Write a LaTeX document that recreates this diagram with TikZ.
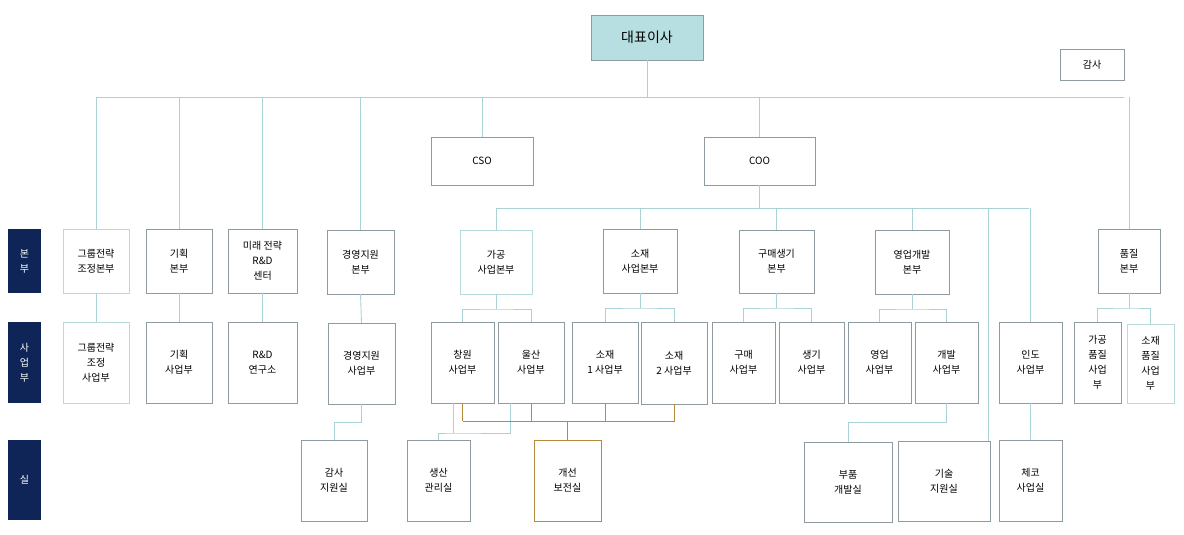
\documentclass[tikz,border=0pt]{standalone}
\usepackage{fontspec}
\setmainfont{Noto Sans CJK KR}
\begin{document}
\definecolor{lt}{HTML}{B9DADD}
\definecolor{gb}{HTML}{8E9CA2}
\definecolor{ln}{HTML}{A8D2D5}
\definecolor{gd}{HTML}{B58A3C}
\definecolor{nv}{HTML}{0F2557}
\definecolor{ceo}{HTML}{B7DEE1}
\newcommand\bx[7]{\node[#7, minimum width={(#4-#2)*1pt}, minimum height={(#5-#3)*1pt}] (#1) at ({(#2+#4)/2},{(#3+#5)/2}) {#6};}
\begin{tikzpicture}[x=1pt,y=-1pt,
  b/.style={draw=gb, line width=0.9pt, inner sep=0pt, outer sep=0pt, align=center, font=\fontsize{10}{15}\selectfont},
  bl/.style={b, draw=lt},
  bg/.style={b, draw=gd},
  lab/.style={fill=nv, inner sep=0pt, outer sep=0pt, align=center, text=white, font=\fontsize{10}{15}\selectfont},
  c/.style={draw=ln, line width=0.9pt},
  cg/.style={draw=gd, line width=0.9pt}]
\useasboundingbox (0,0) rectangle (1184,535);
\bx{ceo}{591}{15}{703}{60}{\fontsize{14}{16}\selectfont 대표이사}{b, fill=ceo}
\bx{audit}{1060}{49}{1124}{80}{감사}{b}
\bx{cso}{431}{137}{533}{185}{CSO}{b}
\bx{coo}{704}{137}{815}{185}{COO}{b}
\bx{L1}{8}{229}{41}{293}{본\\부}{lab}
\bx{L2}{8}{322}{41}{403}{사\\업\\부}{lab}
\bx{L3}{8}{440}{41}{520}{실}{lab}
% row1
\bx{a1}{63}{229}{129}{293}{그룹전략\\조정본부}{bl}
\bx{a2}{146}{229}{212}{293}{기획\\본부}{b}
\bx{a3}{228}{229}{297}{293}{미래 전략\\R\&D\\센터}{b}
\bx{a4}{327}{230}{394}{294}{경영지원\\본부}{b}
\bx{a5}{460}{230}{532}{294}{가공\\사업본부}{bl}
\bx{a6}{603}{229}{677}{293}{소재\\사업본부}{b}
\bx{a7}{739}{230}{814}{293}{구매생기\\본부}{b}
\bx{a8}{875}{230}{949}{294}{영업개발\\본부}{b}
\bx{a9}{1098}{229}{1160}{293}{품질\\본부}{b}
% row2
\bx{b1}{63}{322}{129}{403}{그룹전략\\조정\\사업부}{bl}
\bx{b2}{146}{322}{212}{403}{기획\\사업부}{b}
\bx{b3}{228}{322}{297}{403}{R\&D\\연구소}{b}
\bx{b4}{328}{323}{395}{404}{경영지원\\사업부}{b}
\bx{b5}{431}{322}{494}{403}{창원\\사업부}{b}
\bx{b6}{498}{322}{564}{403}{울산\\사업부}{b}
\bx{b7}{572}{322}{638}{403}{소재\\1 사업부}{b}
\bx{b8}{641}{322}{707}{404}{소재\\2 사업부}{b}
\bx{b9}{712}{322}{775}{403}{구매\\사업부}{b}
\bx{b10}{779}{322}{844}{403}{생기\\사업부}{b}
\bx{b11}{848}{322}{911}{403}{영업\\사업부}{b}
\bx{b12}{915}{322}{978}{403}{개발\\사업부}{b}
\bx{b13}{999}{322}{1062}{403}{인도\\사업부}{b}
\bx{b14}{1074}{322}{1121}{403}{가공\\품질\\사업\\부}{b}
\bx{b15}{1127}{324}{1174}{403}{소재\\품질\\사업\\부}{bl}
% row3
\bx{c1}{301}{440}{367}{521}{감사\\지원실}{b}
\bx{c2}{407}{440}{470}{521}{생산\\관리실}{b}
\bx{c3}{534}{440}{601}{521}{개선\\보전실}{bg}
\bx{c4}{804}{442}{892}{522}{부품\\개발실}{b}
\bx{c5}{898}{441}{990}{521}{기술\\지원실}{b}
\bx{c6}{999}{440}{1062}{521}{체코\\사업실}{b}
% top bus
\coordinate (t1) at (97,97);
\coordinate (t2) at (1124,97);
\coordinate (aud) at (1124,97);
\draw[c] (t1) -- (t2);
\draw[c] (ceo.south) -- (ceo.south |- t1);
\foreach \n in {a1,a2,a3,a4,cso,coo}{\draw[c] (\n.north) -- (\n.north |- t1);}
\draw[c] (a9.north) -- (a9.north |- t1);
% COO bus
\coordinate (k1) at (497,208);
\coordinate (k2) at (1029,208);
\draw[c] (coo.south) -- (coo.south |- k1);
\draw[c] (k1) -- (k2);
\foreach \n in {a5,a6,a7,a8}{\draw[c] (\n.north) -- (\n.north |- k1);}
\draw[c] (b13.north) -- (b13.north |- k2);
\draw[c] (c5.north east) ++(-2,0) coordinate (c5t);
\draw[c] (c5t) -- (c5t |- k1);
% straight
\foreach \u/\v in {a1/b1,a2/b2,a3/b3,a4/b4,b13/c6}{\draw[c] (\u.south) -- (\v.north);}
% splits
\newcommand\split[4]{\draw[c] (#1.south) -- ++(0,16) coordinate (s#1); \draw[c] (#2.north) |- (s#1) -| (#3.north);}
\draw[c] (a5.south) -- ++(0,15) coordinate (sa5);
\draw[c] (b5.north) ++(0,0) |- (sa5) -| (b6.north);
\draw[c] (a6.south) -- ++(0,15) coordinate (sa6);
\draw[c] (b7.north) |- (sa6) -| (b8.north);
\draw[c] (a7.south) -- ++(0,15) coordinate (sa7);
\draw[c] (b9.north) |- (sa7) -| (b10.north);
\draw[c] (a8.south) -- ++(0,15) coordinate (sa8);
\draw[c] (b11.north) |- (sa8) -| (b12.north);
\draw[c] (a9.south) -- ++(0,15) coordinate (sa9);
\draw[c] (b14.north) |- (sa9) -| (b15.north);
% to 실
\draw[c] (b4.south) -- ++(0,18) -| (c1.north);
\coordinate (p1) at (453,403);
\coordinate (p2) at (510,403);
\draw[c] (p1) -- ++(0,30) coordinate (q1);
\draw[c] (p2) |- (q1) -| (c2.north);
\draw[c] (b12.south) -- ++(0,19) -| (c4.north);
% gold
\draw[cg] (b5.south) -- ++(0,18) coordinate (g1);
\draw[cg] (g1) -| (b8.south);
\foreach \n in {b6,b7}{\draw[cg] (\n.south) -- (\n.south |- g1);}
\draw[cg] (c3.north) -- (c3.north |- g1);
\end{tikzpicture}
\end{document}
